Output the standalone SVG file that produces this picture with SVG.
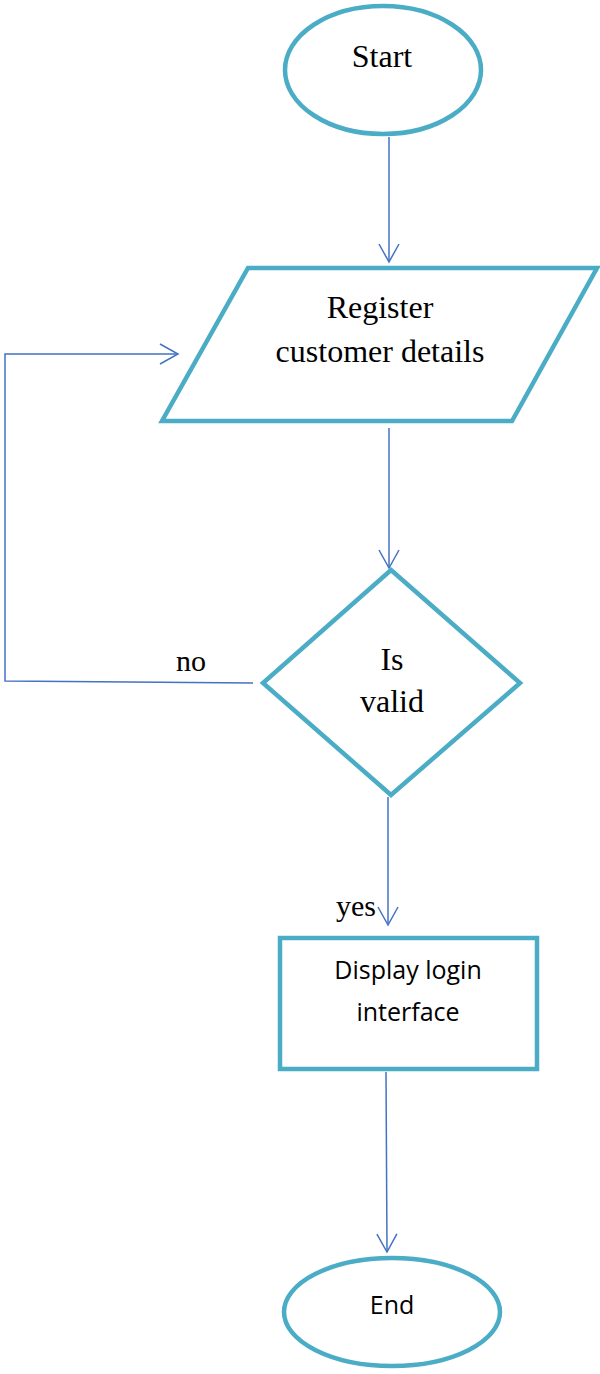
<svg xmlns="http://www.w3.org/2000/svg" width="600" height="1374" viewBox="0 0 600 1374">
<style>
.node{fill:#fff;stroke:#4bacc6;stroke-width:4.5;stroke-linejoin:miter}
.conn{fill:none;stroke:#4472c4;stroke-width:1.5}
.serif{font-family:"Liberation Serif","Times New Roman",serif;font-size:32px;fill:#000;text-anchor:middle}
.lbl{font-family:"Liberation Serif","Times New Roman",serif;font-size:30px;fill:#000;text-anchor:middle}
.sans{font-family:"Open Sans","Noto Sans",sans-serif;font-size:25px;fill:#000;text-anchor:middle}
</style>
<defs>
<marker id="arr" markerUnits="userSpaceOnUse" orient="auto" refX="0" refY="0" markerWidth="24" markerHeight="26" viewBox="-21 -13 24 26" overflow="visible">
<path d="M-18,-10 L0,0 L-18,10" fill="none" stroke="#4472c4" stroke-width="1.5"/>
</marker>
</defs>
<g id="connectors">
<line class="conn" x1="389" y1="137" x2="389" y2="262" marker-end="url(#arr)"/>
<line class="conn" x1="389" y1="428" x2="389" y2="568" marker-end="url(#arr)"/>
<polyline class="conn" points="253,683 5,681 5,354 178,354" marker-end="url(#arr)"/>
<line class="conn" x1="388" y1="797" x2="388" y2="925" marker-end="url(#arr)"/>
<line class="conn" x1="386" y1="1072" x2="387" y2="1252" marker-end="url(#arr)"/>
<text class="lbl" x="191" y="671">no</text>
<text class="lbl" x="356" y="916">yes</text>
</g>
<g id="start">
<ellipse class="node" cx="383" cy="70" rx="98" ry="64"/>
<text class="serif" x="382" y="67">Start</text>
</g>
<g id="register">
<polygon class="node" points="248,268 597,268 512,421 162,421"/>
<text class="serif" x="380" y="318">Register</text>
<text class="serif" x="380" y="362">customer details</text>
</g>
<g id="valid">
<polygon class="node" points="391,570 520,683 391,795 263,683"/>
<text class="serif" x="392" y="670">Is</text>
<text class="serif" x="392" y="712">valid</text>
</g>
<g id="display">
<rect class="node" x="280" y="938" width="257" height="131"/>
<text class="sans" x="408" y="979">Display login</text>
<text class="sans" x="408" y="1021">interface</text>
</g>
<g id="end">
<ellipse class="node" cx="392" cy="1312" rx="108" ry="54"/>
<text class="sans" x="392" y="1314">End</text>
</g>
</svg>
